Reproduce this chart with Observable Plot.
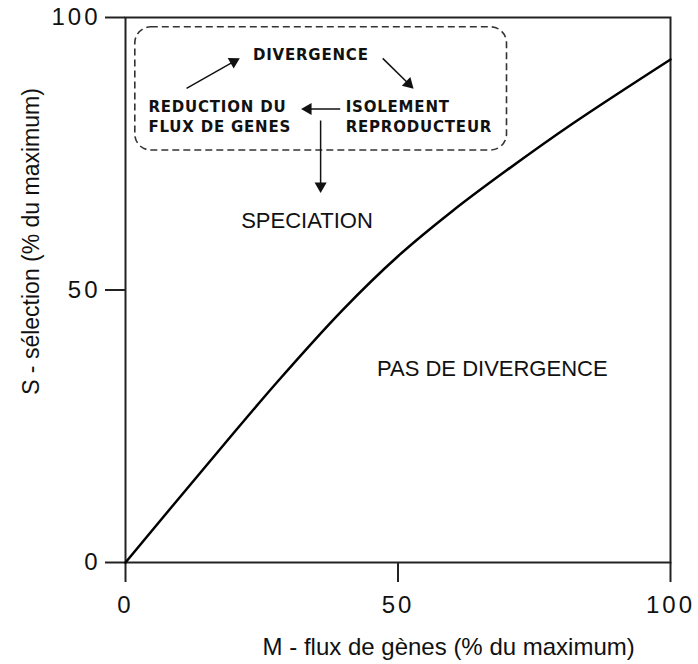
<!DOCTYPE html>
<html>
<head>
<meta charset="utf-8">
<script src="https://cdn.jsdelivr.net/npm/d3@7"></script>
<script src="https://cdn.jsdelivr.net/npm/@observablehq/plot@0.6"></script>
<style>
  html, body { margin: 0; padding: 0; background: #fff; }
  #chart { width: 698px; height: 664px; }
</style>
</head>
<body>
<div id="chart"></div>
<script>
// ---- data ----
const fluxM = [0, 14, 28, 40, 50, 60, 70, 82, 100];               // M - flux de gènes (%)
const selS  = [0, 16.8, 33.3, 46.5, 56.2, 64.5, 72, 80.5, 92.3];  // S - sélection (%)

const xTicks = [0, 50, 100];
const yTicks = [0, 50, 100];

const xTitle = "M - flux de gènes (% du maximum)";
const yTitle = "S - sélection (% du maximum)";

// region labels
const regionText = ["SPECIATION", "PAS DE DIVERGENCE"];
const regionX = [33.3, 67.3];
const regionY = [62.75, 35.6];

// diagram (dashed box) labels
const topText = ["DIVERGENCE"];
const topX = [34.0];
const topY = [93.0];
const sideText = ["REDUCTION DU", "FLUX DE GENES", "ISOLEMENT", "REPRODUCTEUR"];
const sideX = [4.2, 4.2, 40.4, 40.4];
const sideY = [83.5, 79.8, 83.5, 79.8];

// dashed box extent
const boxX1 = 1.8, boxX2 = 70.0, boxY1 = 75.6, boxY2 = 98.2;

// arrows: start -> tip
const arrowX1 = [11.2, 47.2, 39.4, 35.8];
const arrowY1 = [87.0, 92.5, 83.2, 81.1];
const arrowX2 = [20.9, 52.8, 32.3, 35.8];
const arrowY2 = [92.5, 87.0, 83.2, 67.9];

// ---- tables ----
const curve = fluxM.map((m, i) => ({m, s: selS[i]}));
const regions = regionText.map((t, i) => ({t, x: regionX[i], y: regionY[i]}));
const topLabels = topText.map((t, i) => ({t, x: topX[i], y: topY[i]}));
const sideLabels = sideText.map((t, i) => ({t, x: sideX[i], y: sideY[i]}));
const arrows = arrowX1.map((x1, i) => {
  const x2 = arrowX2[i], y1 = arrowY1[i], y2 = arrowY2[i];
  const dx = x2 - x1, dy = y2 - y1, len = Math.hypot(dx, dy);
  return {x1, y1, x2, y2, ux: dx / len, uy: dy / len, angle: Math.atan2(dx, dy) * 180 / Math.PI};
});
const headBack = 1.2;

const boldFont = {fontFamily: "'DejaVu Sans', sans-serif", fontWeight: "bold", fontSize: 15, fill: "#111"};

const chart = Plot.plot({
  width: 698,
  height: 664,
  marginLeft: 125,
  marginRight: 28,
  marginTop: 17,
  marginBottom: 102,
  x: {domain: [0, 100]},
  y: {domain: [0, 100]},
  style: {fontFamily: "'Liberation Sans', Arial, sans-serif", background: "#fff", color: "#111"},
  marks: [
    Plot.axisX({ticks: xTicks, tickSize: 20, tickPadding: 13, fontSize: 24, label: null, strokeWidth: 2, stroke: "#222", tickFormat: d => String(d)}),
    Plot.axisY({ticks: yTicks, tickSize: 20, tickPadding: 5, fontSize: 24, label: null, strokeWidth: 2, stroke: "#222", tickFormat: d => String(d)}),
    Plot.frame({stroke: "#222", strokeWidth: 2}),
    Plot.line(curve, {x: "m", y: "s", curve: "catmull-rom", stroke: "#000", strokeWidth: 2.5}),
    Plot.rect([{x1: boxX1, x2: boxX2, y1: boxY1, y2: boxY2}], {x1: "x1", x2: "x2", y1: "y1", y2: "y2", rx: 16, fill: "none", stroke: "#333", strokeWidth: 1.6, strokeDasharray: "7,4"}),
    Plot.link(arrows, {x1: "x1", y1: "y1", x2: d => d.x2 - d.ux * headBack, y2: d => d.y2 - d.uy * headBack, stroke: "#111", strokeWidth: 1.5}),
    Plot.dot(arrows, {x: d => d.x2 - d.ux * headBack, y: d => d.y2 - d.uy * headBack, symbol: "triangle", rotate: "angle", r: 4.5, fill: "#111", stroke: "none"}),
    Plot.text(topLabels, {x: "x", y: "y", text: "t", textAnchor: "middle", ...boldFont}),
    Plot.text(sideLabels, {x: "x", y: "y", text: "t", textAnchor: "start", ...boldFont}),
    Plot.text(regions, {x: "x", y: "y", text: "t", fontSize: 22, fill: "#111"}),
    Plot.text([xTitle], {x: 59.3, y: -15.6, text: d => d, fontSize: 24, fill: "#111"}),
    Plot.text([yTitle], {x: -17.2, y: 58.9, text: d => d, rotate: -90, fontSize: 23, fill: "#111"})
  ]
});

// letter spacing: diagram labels and tick labels
d3.select(chart).selectAll("g[font-weight=bold] text").attr("letter-spacing", "0.8");
d3.select(chart).selectAll("g[aria-label='x-axis tick label'] text, g[aria-label='y-axis tick label'] text").attr("letter-spacing", "3");

document.getElementById("chart").appendChild(chart);
</script>
</body>
</html>
